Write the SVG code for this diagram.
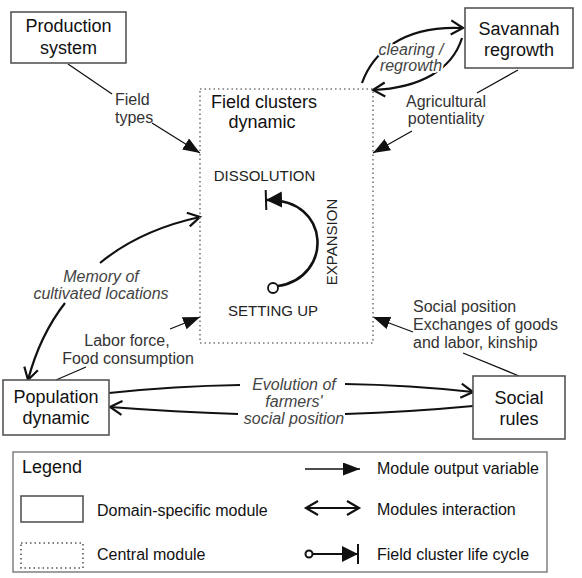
<svg xmlns="http://www.w3.org/2000/svg" width="582" height="578" viewBox="0 0 582 578">
<style>
.box{fill:#fff;stroke:#555;stroke-width:1.6}
.central{fill:none;stroke:#777;stroke-width:1.6;stroke-dasharray:1.5 3}
.mod{font-family:"Liberation Sans",Arial,sans-serif;font-size:18px;fill:#111;text-anchor:middle}
.lbl{font-family:"Liberation Sans",Arial,sans-serif;font-size:16px;fill:#333}
.it{font-family:"Liberation Sans",Arial,sans-serif;font-size:16px;fill:#444;font-style:italic;text-anchor:middle}
.halo{stroke:#fff;stroke-width:4;paint-order:stroke;stroke-linejoin:round}
.stage{font-family:"Liberation Sans",Arial,sans-serif;font-size:15px;fill:#222;text-anchor:middle}
.out{fill:none;stroke:#111;stroke-width:1.3}
.inter{fill:none;stroke:#111;stroke-width:2.2}
.cyc{fill:none;stroke:#111;stroke-width:2.6}
</style>
<defs>
<marker id="fill" markerUnits="userSpaceOnUse" markerWidth="18" markerHeight="14" refX="17" refY="6.5" orient="auto">
<path d="M0,0 L17,6.5 L0,13 z" fill="#111"/>
</marker>
<marker id="open" markerUnits="userSpaceOnUse" markerWidth="16" markerHeight="18" refX="13" refY="8" orient="auto-start-reverse">
<path d="M1,1 L13,8 L1,15" fill="none" stroke="#111" stroke-width="2.2"/>
</marker>
<marker id="cycend" markerUnits="userSpaceOnUse" markerWidth="20" markerHeight="22" refX="16" refY="11" orient="auto">
<path d="M0,3 L16,11 L0,19 z" fill="#111"/>
<path d="M16,1 L16,21" stroke="#111" stroke-width="2"/>
</marker>
</defs>

<g id="connectors">
<!-- Production system -> central -->
<path class="out" d="M68,64 L112,94"/>
<path class="out" d="M152,123 L200,153" marker-end="url(#fill)"/>
<!-- Savannah -> central -->
<path class="out" d="M518,70 L477,93"/>
<path class="out" d="M412,131 L373,153" marker-end="url(#fill)"/>
<!-- Population -> central -->
<path class="out" d="M56,380 L86,367"/>
<path class="out" d="M170,329 L200,317" marker-end="url(#fill)"/>
<!-- Social rules -> central -->
<path class="out" d="M519,376 L463,353"/>
<path class="out" d="M413,332 L373,317" marker-end="url(#fill)"/>
<!-- clearing / regrowth -->
<path class="inter" d="M362,83 C372,55 400,25 463,28" marker-end="url(#open)"/>
<path class="inter" d="M462,38 C452,70 420,88 373,90" marker-end="url(#open)"/>
<!-- memory of cultivated locations -->
<path class="inter" d="M100,263 Q140,230 200,217" marker-end="url(#open)"/>
<path class="inter" d="M65,303 Q40,335 28,380" marker-end="url(#open)"/>
<!-- evolution of farmers' social position -->
<path class="inter" d="M109,393 Q175,386 240,385"/>
<path class="inter" d="M345,384 Q410,385 473,392" marker-end="url(#open)"/>
<path class="inter" d="M473,406 Q410,412 345,414"/>
<path class="inter" d="M238,414 Q175,412 110,407" marker-end="url(#open)"/>
</g>

<g id="production-system">
<rect class="box" x="11" y="12" width="115" height="51"/>
<text class="mod" x="68.5" y="32">Production</text>
<text class="mod" x="68.5" y="54">system</text>
</g>

<g id="savannah-regrowth">
<rect class="box" x="465" y="8" width="108" height="60"/>
<text class="mod" x="519" y="35">Savannah</text>
<text class="mod" x="519" y="56">regrowth</text>
</g>

<g id="population-dynamic">
<rect class="box" x="3" y="380" width="106" height="55"/>
<text class="mod" x="56" y="403">Population</text>
<text class="mod" x="56" y="424">dynamic</text>
</g>

<g id="social-rules">
<rect class="box" x="473" y="376" width="92" height="63"/>
<text class="mod" x="519" y="404">Social</text>
<text class="mod" x="519" y="425">rules</text>
</g>

<g id="field-clusters-dynamic">
<rect class="central" x="200" y="89" width="173" height="254"/>
<text class="mod" x="264" y="108">Field clusters</text>
<text class="mod" x="262" y="128">dynamic</text>
<text class="stage" x="264.5" y="181">DISSOLUTION</text>
<text class="stage" x="273" y="316">SETTING UP</text>
<text class="stage" transform="translate(337,242) rotate(-90)">EXPANSION</text>
<circle cx="273" cy="288" r="5" fill="#fff" stroke="#111" stroke-width="1.8"/>
<path class="cyc" d="M278,286 C333,278 332,198 266,200" marker-end="url(#cycend)"/>
</g>

<g id="labels">
<text class="lbl" x="115" y="105">Field</text>
<text class="lbl" x="115" y="123">types</text>
<text class="lbl" x="446" y="107" text-anchor="middle">Agricultural</text>
<text class="lbl" x="446" y="124" text-anchor="middle">potentiality</text>
<text class="lbl" x="127" y="346" text-anchor="middle">Labor force,</text>
<text class="lbl" x="128" y="364" text-anchor="middle">Food consumption</text>
<text class="lbl" x="413" y="312">Social position</text>
<text class="lbl" x="413" y="330">Exchanges of goods</text>
<text class="lbl" x="413" y="348">and labor, kinship</text>
<text class="it halo" x="411" y="55">clearing /</text>
<text class="it halo" x="411" y="71">regrowth</text>
<text class="it" x="101" y="282">Memory of</text>
<text class="it" x="101" y="299">cultivated locations</text>
<text class="it" x="294" y="390">Evolution of</text>
<text class="it" x="294" y="407">farmers'</text>
<text class="it" x="294" y="424">social position</text>
</g>

<g id="legend">
<rect x="13" y="452" width="534" height="120" fill="#fff" stroke="#777" stroke-width="1.4"/>
<text class="lbl" x="22" y="473" style="font-size:18px;fill:#111">Legend</text>
<rect class="box" x="21" y="496" width="62" height="26"/>
<text class="lbl" x="97" y="516" style="fill:#111">Domain-specific module</text>
<rect class="central" x="21" y="543" width="62" height="25" style="stroke:#555"/>
<text class="lbl" x="97" y="560" style="fill:#111">Central module</text>
<path class="out" d="M305,469 L360,469" marker-end="url(#fill)"/>
<text class="lbl" x="377" y="474" style="fill:#111">Module output variable</text>
<path class="inter" d="M306,508 L359,508" marker-start="url(#open)" marker-end="url(#open)"/>
<text class="lbl" x="377" y="515" style="fill:#111">Modules interaction</text>
<circle cx="309" cy="554" r="3.5" fill="#fff" stroke="#111" stroke-width="2"/>
<path class="out" d="M313,554 L358,554" style="stroke-width:2" marker-end="url(#cycend)"/>
<text class="lbl" x="377" y="560" style="fill:#111">Field cluster life cycle</text>
</g>
</svg>
